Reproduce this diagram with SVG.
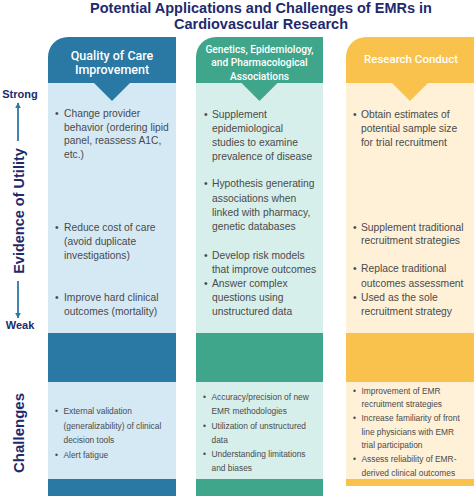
<svg xmlns="http://www.w3.org/2000/svg" width="474" height="496" viewBox="0 0 474 496">
<style>
.title{font-family:"Liberation Sans",Arial,sans-serif;font-weight:700;font-size:14.5px;fill:#1e2a6c;text-anchor:middle}
.axis{font-family:"Liberation Sans",Arial,sans-serif;font-weight:700;fill:#1e2a6c;text-anchor:middle}
.hd{font-family:Roboto,"Liberation Sans",sans-serif;font-weight:500;fill:#ffffff;text-anchor:middle}
.bt{font-family:"Liberation Sans",Arial,sans-serif;font-size:10.3px;fill:#4a4a4a}
.ct{font-family:"Liberation Sans",Arial,sans-serif;font-size:8.4px;fill:#4a4a4a}
.ax{stroke:#2e78a6;stroke-width:1.8;fill:none}
</style>
<defs>
<marker id="ah" viewBox="0 0 10 10" refX="9" refY="5" markerWidth="3.2" markerHeight="3.2" orient="auto"><path d="M0,0 L10,5 L0,10 Z" fill="#2e78a6"/></marker>
</defs>
<rect width="474" height="496" fill="#ffffff"/>
<g id="title">
<text class="title" x="261" y="13">Potential Applications and Challenges of EMRs in</text>
<text class="title" x="261" y="28.5">Cardiovascular Research</text>
</g>
<g id="axis-evidence">
<text class="axis" x="20" y="97.5" font-size="11">Strong</text>
<text class="axis" x="20" y="329" font-size="11">Weak</text>
<text class="axis" font-size="14.5" transform="translate(23.5,211) rotate(-90)">Evidence of Utility</text>
</g>
<g id="axis-challenges">
<text class="axis" font-size="15" transform="translate(24,433) rotate(-90)">Challenges</text>
</g>
<g id="connectors">
<line class="ax" x1="18" y1="141" x2="18" y2="103" marker-end="url(#ah)"/>
<line class="ax" x1="18" y1="281" x2="18" y2="318" marker-end="url(#ah)"/>
</g>
<g id="col-quality">
<rect x="48" y="83" width="128" height="250" fill="#d5e9f5"/>
<rect x="48" y="333" width="128" height="49" fill="#2a78a4"/>
<rect x="48" y="382" width="128" height="97" fill="#d5e9f5"/>
<rect x="48" y="479" width="128" height="17" fill="#2a78a4"/>
<path d="M48,57 A20,20 0 0 1 68,37 L176,37 L176,83 L130,83 L112,101 L94,83 L48,83 Z" fill="#2a78a4"/>
<text class="hd" x="112" y="60" font-size="12.5">Quality of Care</text>
<text class="hd" x="112" y="74" font-size="12.5">Improvement</text>
<g class="bt">
<text x="55" y="117">•</text><text x="64" y="117">Change provider</text>
<text x="64" y="131">behavior (ordering lipid</text>
<text x="64" y="144">panel, reassess A1C,</text>
<text x="64" y="158">etc.)</text>
<text x="55" y="231">•</text><text x="64" y="231">Reduce cost of care</text>
<text x="64" y="244.5">(avoid duplicate</text>
<text x="64" y="259">investigations)</text>
<text x="55" y="301">•</text><text x="64" y="301">Improve hard clinical</text>
<text x="64" y="314.5">outcomes (mortality)</text>
</g>
<g class="ct">
<text x="55" y="414">•</text><text x="63.5" y="414">External validation</text>
<text x="63.5" y="429">(generalizability) of clinical</text>
<text x="63.5" y="443">decision tools</text>
<text x="55" y="457.5">•</text><text x="63.5" y="457.5">Alert fatigue</text>
</g>
</g>
<g id="col-genetics">
<rect x="196" y="83" width="127" height="250" fill="#d7efea"/>
<rect x="196" y="333" width="127" height="49" fill="#3fa68b"/>
<rect x="196" y="382" width="127" height="97" fill="#d7efea"/>
<rect x="196" y="479" width="127" height="17" fill="#3fa68b"/>
<path d="M196,57 A20,20 0 0 1 216,37 L323,37 L323,83 L277.5,83 L259.5,101 L241.5,83 L196,83 Z" fill="#3fa68b"/>
<text class="hd" x="259.5" y="52.5" font-size="10.2">Genetics, Epidemiology,</text>
<text class="hd" x="259.5" y="66" font-size="10.2">and Pharmacological</text>
<text class="hd" x="259.5" y="79.5" font-size="10.2">Associations</text>
<g class="bt">
<text x="204" y="118">•</text><text x="212" y="118">Supplement</text>
<text x="212" y="131.7">epidemiological</text>
<text x="212" y="145.7">studies to examine</text>
<text x="212" y="159.7">prevalence of disease</text>
<text x="204" y="187.3">•</text><text x="212" y="187.3">Hypothesis generating</text>
<text x="212" y="201.5">associations when</text>
<text x="212" y="215.7">linked with pharmacy,</text>
<text x="212" y="230">genetic databases</text>
<text x="204" y="259">•</text><text x="212" y="259">Develop risk models</text>
<text x="212" y="272.8">that improve outcomes</text>
<text x="204" y="286.7">•</text><text x="212" y="286.7">Answer complex</text>
<text x="212" y="300.7">questions using</text>
<text x="212" y="314.7">unstructured data</text>
</g>
<g class="ct">
<text x="203" y="400">•</text><text x="211.5" y="400">Accuracy/precision of new</text>
<text x="211.5" y="414">EMR methodologies</text>
<text x="203" y="429">•</text><text x="211.5" y="429">Utilization of unstructured</text>
<text x="211.5" y="443">data</text>
<text x="203" y="457">•</text><text x="211.5" y="457">Understanding limitations</text>
<text x="211.5" y="471">and biases</text>
</g>
</g>
<g id="col-research">
<rect x="346" y="83" width="128" height="250" fill="#fef1d8"/>
<rect x="346" y="333" width="128" height="49" fill="#f8c24c"/>
<rect x="346" y="382" width="128" height="97" fill="#fef1d8"/>
<rect x="346" y="479" width="128" height="7" fill="#f8c24c"/>
<path d="M346,57 A20,20 0 0 1 366,37 L474,37 L474,83 L428,83 L410,101 L392,83 L346,83 Z" fill="#f8c24c"/>
<text class="hd" x="411" y="63" font-size="11.5">Research Conduct</text>
<g class="bt">
<text x="353" y="118">•</text><text x="361" y="118">Obtain estimates of</text>
<text x="361" y="131.7">potential sample size</text>
<text x="361" y="145.7">for trial recruitment</text>
<text x="353" y="230.7">•</text><text x="361" y="230.7">Supplement traditional</text>
<text x="361" y="244">recruitment strategies</text>
<text x="353" y="272.3">•</text><text x="361" y="272.3">Replace traditional</text>
<text x="361" y="286.7">outcomes assessment</text>
<text x="353" y="300.7">•</text><text x="361" y="300.7">Used as the sole</text>
<text x="361" y="314.7">recruitment strategy</text>
</g>
<g class="ct">
<text x="353" y="393.5">•</text><text x="361.5" y="393.5">Improvement of EMR</text>
<text x="361.5" y="407">recruitment strategies</text>
<text x="353" y="421">•</text><text x="361.5" y="421">Increase familiarity of front</text>
<text x="361.5" y="434.5">line physicians with EMR</text>
<text x="361.5" y="448">trial participation</text>
<text x="353" y="462">•</text><text x="361.5" y="462">Assess reliability of EMR-</text>
<text x="361.5" y="475.5">derived clinical outcomes</text>
</g>
</g>
</svg>
